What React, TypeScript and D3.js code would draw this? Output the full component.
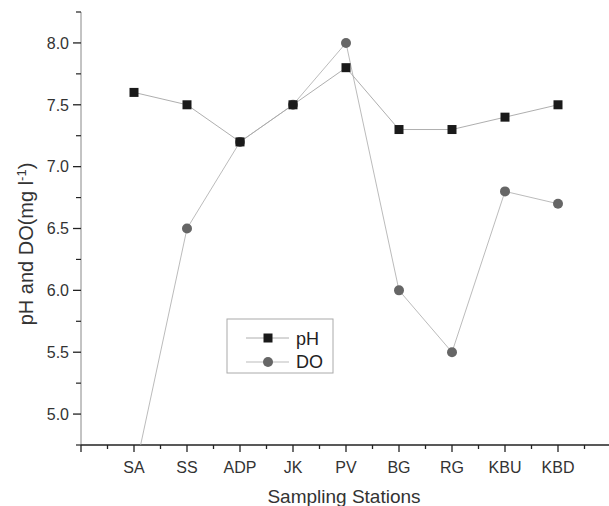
import React from "react";
import * as d3 from "d3";

const stations = ["SA", "SS", "ADP", "JK", "PV", "BG", "RG", "KBU", "KBD"];
const phValues = [7.6, 7.5, 7.2, 7.5, 7.8, 7.3, 7.3, 7.4, 7.5];
const doValues = [4.5, 6.5, 7.2, 7.5, 8.0, 6.0, 5.5, 6.8, 6.7];
const yTicks = [5.0, 5.5, 6.0, 6.5, 7.0, 7.5, 8.0];

const W = 609, H = 506;
const left = 81, right = 611, top = 12, bottom = 445;

export default function App() {
  const x = d3.scaleLinear().domain([0, 10]).range([left, right]);
  const y = d3.scaleLinear().domain([4.75, 8.25]).range([bottom, top]);
  const line = d3.line<number>().x((_, i) => x(i + 1)).y((d) => y(d));
  const minorY = d3.range(4.75, 8.26, 0.25).filter((v) => Math.abs((v * 2) % 1) > 0.01);
  const xTickVals = d3.range(0, 10.01, 0.5);
  const font = "Liberation Sans, Arial, sans-serif";
  return (
    <svg width={W} height={H} style={{ position: "absolute", left: 0, top: 0, background: "#fff" }} fontFamily={font}>
      <defs>
        <clipPath id="plot">
          <rect x={left} y={top} width={right - left} height={bottom - top} />
        </clipPath>
      </defs>
      {/* Y axis */}
      <line x1={left} x2={left} y1={top} y2={bottom} stroke="#888" strokeWidth={1} />
      {yTicks.map((t) => (
        <g key={t}>
          <line x1={left - 8} x2={left} y1={y(t)} y2={y(t)} stroke="#222" strokeWidth={1.3} />
          <text x={left - 12} y={y(t)} dy="0.36em" textAnchor="end" fontSize={16} fill="#333">
            {t.toFixed(1)}
          </text>
        </g>
      ))}
      {minorY.map((t) => (
        <line key={"m" + t} x1={left - 5} x2={left} y1={y(t)} y2={y(t)} stroke="#222" strokeWidth={1.2} />
      ))}
      {/* X axis */}
      <line x1={left} x2={right} y1={bottom} y2={bottom} stroke="#222" strokeWidth={1.6} />
      {xTickVals.map((v) => {
        const major = Math.abs(v % 1) < 0.01;
        return (
          <line key={"x" + v} x1={x(v)} x2={x(v)} y1={bottom} y2={bottom + (major ? 7 : 4)} stroke="#222" strokeWidth={1.3} />
        );
      })}
      {stations.map((s, i) => (
        <text key={s} x={x(i + 1)} y={473} textAnchor="middle" fontSize={16} fill="#333">
          {s}
        </text>
      ))}
      <text x={344} y={503} textAnchor="middle" fontSize={19} fill="#333">Sampling Stations</text>
      <text transform={`translate(33, 244) rotate(-90)`} textAnchor="middle" fontSize={20} fill="#333">
        pH and DO(mg l<tspan dy="-7" fontSize={13}>-1</tspan><tspan dy="7">)</tspan>
      </text>
      {/* Series */}
      <g clipPath="url(#plot)">
        <path d={line(phValues) || ""} fill="none" stroke="#999" strokeWidth={0.8} />
        <path d={line(doValues) || ""} fill="none" stroke="#aaa" strokeWidth={0.8} />
        {doValues.map((v, i) => (
          <circle key={"d" + i} cx={x(i + 1)} cy={y(v)} r={5} fill="#666" />
        ))}
        {phValues.map((v, i) => (
          <rect key={"p" + i} x={x(i + 1) - 4.5} y={y(v) - 4.5} width={9} height={9} fill="#1a1a1a" />
        ))}
      </g>
      {/* Legend */}
      <rect x={227} y={319} width={106} height={54} fill="#fff" stroke="#aaa" strokeWidth={1} />
      <line x1={246} x2={289} y1={338} y2={338} stroke="#999" strokeWidth={0.8} />
      <rect x={268 - 4.5} y={338 - 4.5} width={9} height={9} fill="#1a1a1a" />
      <text x={296} y={339} dy="0.35em" fontSize={18} fill="#222">pH</text>
      <line x1={246} x2={289} y1={362} y2={362} stroke="#aaa" strokeWidth={0.8} />
      <circle cx={268} cy={362} r={5} fill="#666" />
      <text x={296} y={362} dy="0.35em" fontSize={18} fill="#222">DO</text>
    </svg>
  );
}
